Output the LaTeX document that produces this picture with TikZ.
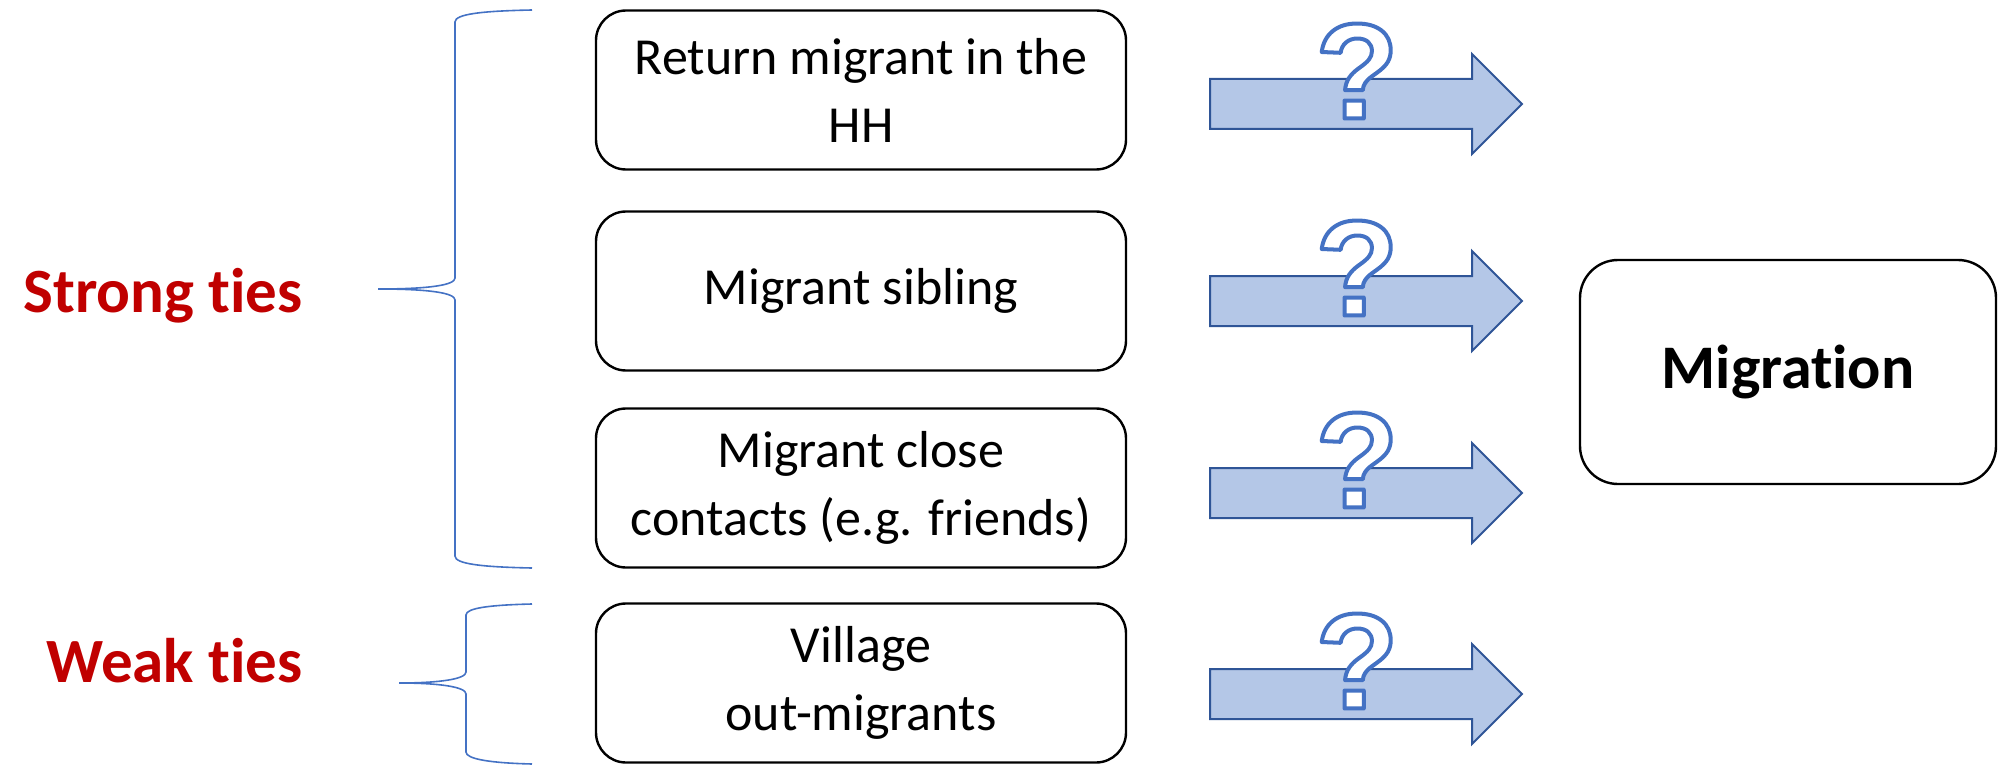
\documentclass[tikz,border=0pt]{standalone}
\usepackage{fontspec}
\setmainfont{Carlito}[RawFeature={-liga;-calt;-dlig}]
\newfontfamily\qfont{Liberation Sans}

\definecolor{tiered}{HTML}{C00000}
\definecolor{bracebl}{HTML}{4472C4}
\definecolor{arrowfill}{HTML}{B4C7E7}
\definecolor{arrowline}{HTML}{2F5597}

\tikzset{
  tiebox/.style={draw, line width=1.2pt, rounded corners=15pt, minimum width=265pt,
    minimum height=79.5pt, align=center, inner sep=0pt, font=\fontsize{26}{34}\selectfont},
  outbox/.style={draw, line width=1.2pt, rounded corners=19pt, minimum width=208pt,
    minimum height=112pt, font=\fontsize{31}{38}\selectfont\bfseries},
  tielabel/.style={text=tiered, inner sep=0pt, font=\fontsize{31.5}{38}\selectfont\bfseries},
  brace/.style={draw=bracebl, line width=0.8pt},
  blockarrow/.style={fill=arrowfill, draw=arrowline, line width=1pt},
  qmark/.style={text=white, inner sep=0pt, font=\qfont\fontsize{68}{72}\selectfont\bfseries},
}
% white glyph with a blue outline
\newcommand{\outlined}[1]{\special{pdf:literal direct 0.267 0.447 0.769 RG 2 Tr 2 w 1 j}#1\special{pdf:literal direct 0 Tr}}

\begin{document}
\begin{tikzpicture}[x=0.5pt,y=-0.5pt]
\useasboundingbox (0,0) rectangle (1998,765);

% left column
\node[tielabel, anchor=base east] (strong) at (303,312) {Strong ties};
\node[tielabel, anchor=base east] (weak) at (303,682) {Weak ties};

% braces
\path[brace] (532,10) .. controls (482,11) and (455,14) .. (455,22) -- (455,278)
  .. controls (455,285) and (430,289) .. (378,289)
  .. controls (430,289) and (455,293) .. (455,300) -- (455,556)
  .. controls (455,564) and (482,567) .. (532,568);
\path[brace] (532,604) .. controls (490,605) and (466,608) .. (466,615) -- (466,672)
  .. controls (466,679) and (440,683) .. (399,683)
  .. controls (440,683) and (466,687) .. (466,694) -- (466,752)
  .. controls (466,759) and (490,763) .. (532,764);

% network boxes
\node[tiebox] (hh) at (861,90) {Return migrant in the\\HH};
\node[tiebox] (sib) at (861,291) {Migrant sibling};
\node[tiebox] (close) at (861,488) {Migrant close\\contacts (e.g. friends)};
\node[tiebox] (village) at (861,683) {Village\\out-migrants};

% arrows with question marks
\foreach \y [count=\i] in {104,301,493,694} {
  \path[blockarrow] (1210,\y-25) -- (1472,\y-25) -- (1472,\y-50) -- (1522,\y)
    -- (1472,\y+50) -- (1472,\y+25) -- (1210,\y+25) -- cycle;
  \node[qmark] (q\i) at (1357,\y-33) {\outlined{?}};
}

% outcome
\node[outbox] (mig) at (1788,372) {Migration};
\end{tikzpicture}
\end{document}
